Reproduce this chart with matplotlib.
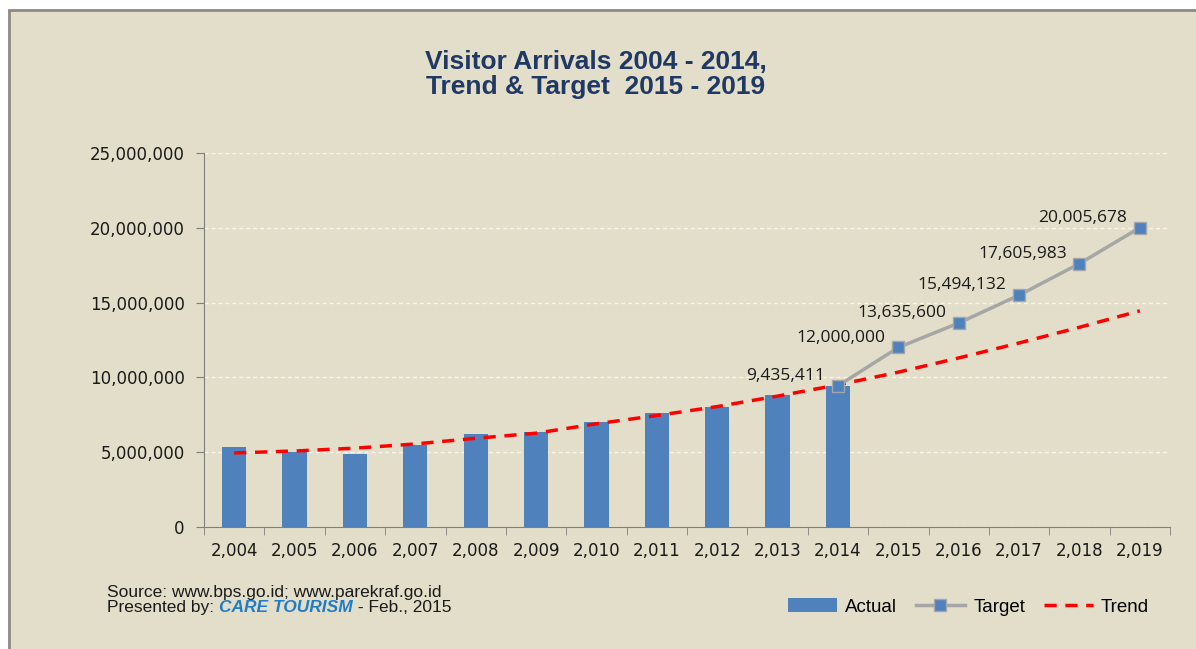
import matplotlib.pyplot as plt
from matplotlib.patches import Rectangle, Patch
from matplotlib.lines import Line2D
from matplotlib.ticker import FuncFormatter
import numpy as np

years = [2004, 2005, 2006, 2007, 2008, 2009, 2010, 2011, 2012, 2013, 2014,
         2015, 2016, 2017, 2018, 2019]
actual = [5321165, 5002101, 4871351, 5505759, 6234497, 6323730, 7002944,
          7649731, 8044462, 8802129, 9435411]
target_years = [2014, 2015, 2016, 2017, 2018, 2019]
target = [9435411, 12000000, 13635600, 15494132, 17605983, 20005678]
trend = [4950000, 5080000, 5270000, 5550000, 5930000, 6270000, 6900000,
         7450000, 8050000, 8750000, 9500000, 10350000, 11300000, 12300000,
         13350000, 14450000]

BG = '#E3DEC9'
BLUE = '#4F81BD'

fig = plt.figure(figsize=(11.96, 6.49), dpi=100)
fig.patch.set_facecolor('white')
# panel frame
fig.patches.append(Rectangle((9 / 1196, -0.02), 1.05, 1 - 10 / 649 + 0.02,
                             transform=fig.transFigure, facecolor=BG,
                             edgecolor='#8E8983', lw=2, zorder=-1))

ax = fig.add_axes([204 / 1196, 1 - 527 / 649, (1170 - 204) / 1196, (527 - 153) / 649])
ax.patch.set_alpha(0)

x = np.arange(len(years))
ax.bar(x[:len(actual)], actual, width=0.4, color=BLUE, zorder=2)

tx = [years.index(y) for y in target_years]
ax.plot(tx, target, color='#A6A6A6', lw=2.5, marker='s', markersize=9,
        markerfacecolor=BLUE, markeredgecolor='#A6A6A6', markeredgewidth=1,
        zorder=4)
ax.plot(x, trend, color='#FF0000', lw=2.5, ls=(0, (3.5, 2.5)), zorder=3)

for xi, v in zip(tx, target):
    ax.annotate(f'{v:,}', (xi, v), xytext=(-9, 7), textcoords='offset points',
                ha='right', va='center', fontsize=12.5, family='Open Sans',
                color='#1a1a1a', zorder=5)

ax.set_xlim(-0.5, len(years) - 0.5)
ax.set_ylim(0, 25000000)
ax.set_yticks(np.arange(0, 25000001, 5000000))
ax.yaxis.set_major_formatter(FuncFormatter(lambda v, p: f'{int(v):,}'))
ax.set_xticks(x)
ax.set_xticklabels([f'{y:,}' for y in years])
ax.set_xticks(np.arange(-0.5, len(years)), minor=True)
ax.tick_params(axis='x', which='major', length=0, pad=11, labelsize=12,
               labelcolor='#1a1a1a')
ax.tick_params(axis='x', which='minor', length=6, color='#7f7f7f', direction='out')
ax.tick_params(axis='y', length=6, color='#7f7f7f', pad=8, labelsize=12,
               labelcolor='#1a1a1a')
ax.grid(axis='y', color='#F7F4EC', ls=(0, (3, 2)), lw=1, zorder=0)
ax.set_axisbelow(True)
for s in ['top', 'right']:
    ax.spines[s].set_visible(False)
for s in ['left', 'bottom']:
    ax.spines[s].set_color('#7f7f7f')

fig.text(596 / 1196, 1 - 62 / 649, 'Visitor Arrivals 2004 - 2014,',
         ha='center', va='center', fontsize=19, fontweight='bold',
         color='#1F3864', family='Liberation Sans')
fig.text(596 / 1196, 1 - 87 / 649, 'Trend & Target  2015 - 2019',
         ha='center', va='center', fontsize=19, fontweight='bold',
         color='#1F3864', family='Liberation Sans')

FS = 12.5
fig.text(107 / 1196, 1 - 597 / 649, 'Source: www.bps.go.id; www.parekraf.go.id',
         ha='left', va='baseline', fontsize=FS, family='Liberation Sans', color='#1a1a1a')
t1 = fig.text(107 / 1196, 1 - 612 / 649, 'Presented by: ', ha='left', va='baseline',
              fontsize=FS, family='Liberation Sans', color='#1a1a1a')
fig.canvas.draw()
bb = t1.get_window_extent()
t2 = fig.text(bb.x1 / 1196, 1 - 612 / 649, 'CARE TOURISM', ha='left', va='baseline',
              fontsize=FS, family='Liberation Sans', fontweight='bold',
              style='italic', color='#1F7DC8')
bb2 = t2.get_window_extent()
fig.text(bb2.x1 / 1196, 1 - 612 / 649, ' - Feb., 2015', ha='left', va='baseline',
         fontsize=FS, family='Liberation Sans', color='#1a1a1a')

handles = [Patch(facecolor=BLUE, edgecolor='none'),
           Line2D([], [], color='#A6A6A6', lw=2.5, marker='s', markersize=8,
                  markerfacecolor=BLUE, markeredgecolor='#A6A6A6'),
           Line2D([], [], color='#FF0000', lw=2.5, ls=(0, (3.5, 2.5)))]
leg = fig.legend(handles, ['Actual', 'Target', 'Trend'], ncol=3, frameon=False,
                 loc='center right', bbox_to_anchor=(1166 / 1196, 1 - 607 / 649),
                 handlelength=2.6, handleheight=0.7,
                 columnspacing=1.0, handletextpad=0.45,
                 prop={'family': 'Liberation Sans', 'size': 13.5})

fig.savefig('out.png', dpi=100, facecolor=fig.get_facecolor())
